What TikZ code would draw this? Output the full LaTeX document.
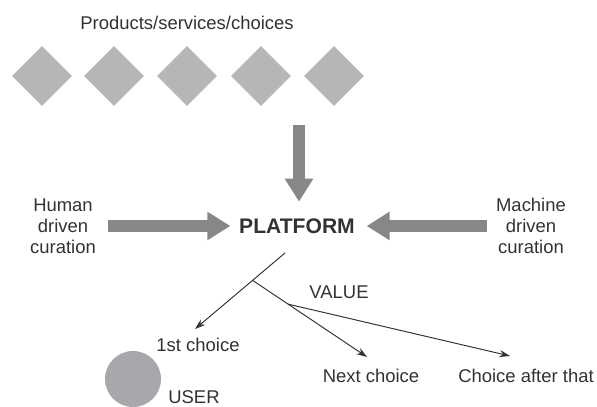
\documentclass[tikz,border=0pt]{standalone}
\usepackage{fontspec}
\setmainfont{Liberation Sans}
\usetikzlibrary{arrows.meta,positioning,calc,shapes.geometric}
\definecolor{ink}{RGB}{50,50,50}
\definecolor{itemgray}{RGB}{182,182,182}
\definecolor{flowgray}{RGB}{135,135,135}
\definecolor{usergray}{RGB}{168,168,172}

\begin{document}
\begin{tikzpicture}[
    x=1cm,y=1cm,
    text=ink,
    every node/.style={font=\fontsize{10.5}{12}\selectfont},
    item/.style={
        diamond,
        fill=itemgray,
        inner sep=0pt,
        minimum width=1.2cm,
        minimum height=1.2cm
    },
    lbl/.style={inner sep=0pt, align=center},
    flow/.style={-{Triangle[length=0.46cm,width=0.54cm]}, line width=0.24cm, draw=flowgray},
    arr/.style={-{Stealth[length=6pt,width=4pt]}, line width=0.55pt, draw=ink}
]
\useasboundingbox (0,0) rectangle (11.94,8.14);

% Title
\node[lbl] (title) at (3.74,7.68) {Products/services/choices};

% Row of choices
\foreach \px [count=\n] in {0.84,2.28,3.74,5.22,6.68}
    \node[item] (item\n) at (\px,6.62) {};

% Platform with the two curation inputs
\node[lbl, font=\fontsize{12}{14}\selectfont\bfseries] (platform) at (5.94,3.62) {PLATFORM};
\node[lbl] (human) at (1.26,3.62) {Human\\driven\\curation};
\node[lbl] (machine) at (10.62,3.62) {Machine\\driven\\curation};

% Thick grey arrows into the platform
\coordinate (feed) at (5.98,5.64);
\draw[flow, shorten >=0.33cm] (feed) -- (feed |- platform.north);
\draw[flow, shorten <=0.24cm, shorten >=0.17cm] (human) -- (platform);
\draw[flow, shorten <=0.18cm, shorten >=0.23cm] (machine) -- (platform);

% Value branches
\coordinate (stem) at (5.7,3.08);
\coordinate (firsttip) at (3.9,1.56);
\coordinate (nexttip) at (7.34,1.0);
\coordinate (aftertip) at (10.2,1.02);
\coordinate (split) at ($(stem)!0.36!(firsttip)$);
\coordinate (fork) at ($(split)!0.31!(nexttip)$);
\draw[arr] (stem) -- (firsttip);
\draw[arr] (split) -- (nexttip);
\draw[arr] (fork) -- (aftertip);

\node[lbl] (value) at (6.78,2.3) {VALUE};
\node[lbl] (first) at (3.96,1.24) {1st choice};
\node[lbl] (next) at (7.42,0.62) {Next choice};
\node[lbl] (after) at (10.52,0.62) {Choice after that};

% User
\node[circle, fill=usergray, minimum size=1.12cm, inner sep=0pt] (user) at (2.66,0.56) {};
\node[lbl, anchor=west] (userlbl) at (3.36,0.2) {USER};

\end{tikzpicture}
\end{document}
